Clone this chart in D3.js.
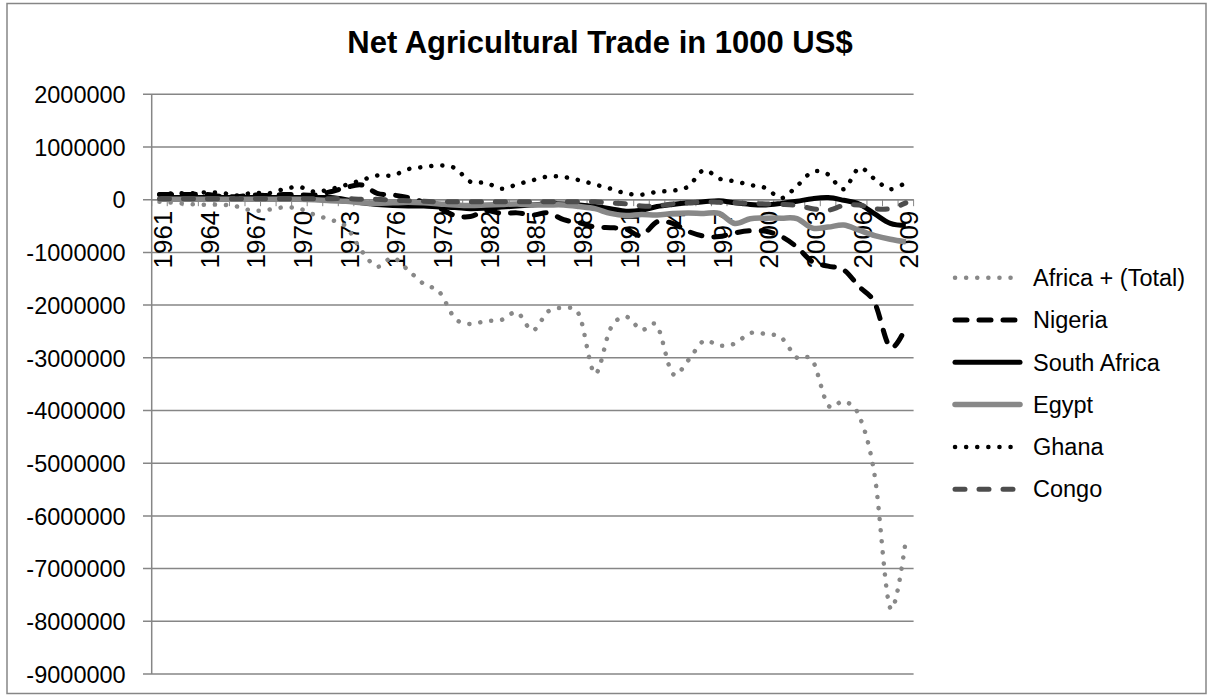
<!DOCTYPE html>
<meta charset="utf-8">
<style>
body { margin: 0; background: #fff; }
svg text { font-family: "Liberation Sans", Arial, sans-serif; fill: #000; }
.grid line { stroke: #868686; stroke-width: 1.5px; }
.axis path, .axis line { stroke: #868686; stroke-width: 1.5px; }
.series { fill: none; stroke-linejoin: round; }
</style>
<svg width="1213" height="698"></svg>
<script src="https://d3js.org/d3.v7.min.js"></script>
<script>

var years = d3.range(1961, 2010);
var tickYears = [1961, 1964, 1967, 1970, 1973, 1976, 1979, 1982, 1985, 1988, 1991, 1994, 1997, 2000, 2003, 2006, 2009];
var yTicks = [2000000, 1000000, 0, -1000000, -2000000, -3000000, -4000000, -5000000, -6000000, -7000000, -8000000, -9000000];

var africa = [-40000, -60000, -85000, -95000, -95000, -130000, -210000, -190000, -145000, -170000,
  -290000, -380000, -510000, -970000, -1270000, -1100000, -1340000, -1600000, -1750000, -2250000,
  -2360000, -2300000, -2280000, -2140000, -2480000, -2120000, -2060000, -2190000, -3300000, -2450000,
  -2220000, -2470000, -2390000, -3300000, -3050000, -2680000, -2770000, -2730000, -2530000, -2550000,
  -2620000, -3000000, -3050000, -3900000, -3830000, -4100000, -5240000, -7750000, -6450000];
var nigeria = [100000, 100000, 100000, 100000, 60000, 60000, 90000, 80000, 100000, 90000,
  90000, 150000, 230000, 280000, 120000, 90000, 40000, -50000, -160000, -300000,
  -320000, -210000, -260000, -250000, -290000, -250000, -380000, -440000, -520000, -530000,
  -560000, -680000, -420000, -450000, -600000, -690000, -700000, -630000, -590000, -600000,
  -700000, -900000, -1180000, -1260000, -1330000, -1650000, -1960000, -2800000, -2420000];
var southAfrica = [40000, 40000, 40000, 40000, 40000, 40000, 40000, 40000, 40000, 40000,
  40000, 40000, 0, -60000, -90000, -110000, -120000, -120000, -140000, -150000,
  -170000, -160000, -140000, -120000, -100000, -80000, -80000, -100000, -130000, -170000,
  -220000, -200000, -130000, -90000, -60000, -40000, -20000, -60000, -90000, -100000,
  -70000, -30000, 20000, 40000, -10000, -80000, -270000, -450000, -490000];
var egypt = [10000, 10000, 10000, 10000, 10000, 10000, 10000, 10000, 10000, 10000,
  0, -20000, -30000, -60000, -70000, -60000, -50000, -60000, -80000, -100000,
  -110000, -100000, -90000, -80000, -100000, -100000, -100000, -130000, -170000, -260000,
  -300000, -280000, -290000, -260000, -250000, -260000, -260000, -450000, -360000, -350000,
  -350000, -360000, -540000, -520000, -480000, -580000, -680000, -750000, -800000];
var ghana = [100000, 120000, 120000, 140000, 130000, 80000, 130000, 120000, 200000, 240000,
  150000, 200000, 280000, 370000, 460000, 460000, 580000, 620000, 650000, 600000,
  340000, 320000, 210000, 290000, 370000, 440000, 430000, 370000, 290000, 210000,
  120000, 95000, 150000, 170000, 250000, 560000, 400000, 350000, 280000, 220000,
  30000, 260000, 530000, 480000, 200000, 600000, 390000, 200000, 330000];
var congo = [20000, 20000, 20000, 20000, 20000, 20000, 20000, 20000, 20000, 20000,
  20000, 20000, 20000, 10000, 10000, -10000, -20000, -30000, -40000, -40000,
  -40000, -40000, -40000, -40000, -40000, -40000, -40000, -40000, -40000, -60000,
  -80000, -120000, -120000, -80000, -60000, -40000, -50000, -60000, -70000, -80000,
  -90000, -110000, -170000, -200000, -110000, -100000, -170000, -170000, -60000];

var series = [
  {name: "Africa + (Total)", values: africa, color: "#888888", width: 4.5, dash: "0.1,11"},
  {name: "Nigeria", values: nigeria, color: "#000000", width: 5, dash: "12,12"},
  {name: "South Africa", values: southAfrica, color: "#000000", width: 5, dash: null},
  {name: "Egypt", values: egypt, color: "#888888", width: 5.5, dash: null},
  {name: "Ghana", values: ghana, color: "#000000", width: 4.5, dash: "0.1,11"},
  {name: "Congo", values: congo, color: "#4d4d4d", width: 5, dash: "10,14"}
];

var svg = d3.select("svg");

// chart border
svg.append("rect")
  .attr("x", 7).attr("y", 3.5)
  .attr("width", 1199).attr("height", 690)
  .attr("fill", "none").attr("stroke", "#868686").attr("stroke-width", 1.5);

svg.append("text")
  .attr("x", 600).attr("y", 53)
  .attr("text-anchor", "middle")
  .style("font-size", "31px").style("font-weight", "bold")
  .text("Net Agricultural Trade in 1000 US$");

var x = d3.scaleBand().domain(years).range([151.7, 913.6]).padding(0);
var y = d3.scaleLinear().domain([-9000000, 2000000]).range([674, 94.3]);

// gridlines
svg.append("g").attr("class", "grid")
  .selectAll("line").data(yTicks).enter().append("line")
    .attr("x1", 143).attr("x2", 913.6)
    .attr("y1", function(d) { return y(d); })
    .attr("y2", function(d) { return y(d); });

// y axis (plain hyphen for negatives, like the original)
var yAxis = svg.append("g").attr("class", "axis")
  .attr("transform", "translate(151.7,0)")
  .call(d3.axisLeft(y).tickValues(yTicks).tickSize(0).tickPadding(26)
    .tickFormat(function(d) { return String(d); }));
yAxis.select(".domain").attr("d", "M0," + y(2000000) + "V" + y(-9000000));
yAxis.selectAll("text").style("font-size", "23.5px").attr("dy", "0.35em");

// category axis at zero
var xg = svg.append("g").attr("class", "axis");
xg.append("line")
  .attr("x1", 151.7).attr("x2", 913.6)
  .attr("y1", y(0)).attr("y2", y(0));
xg.selectAll("line.tick").data(years.concat([2010])).enter().append("line")
  .attr("class", "tick")
  .attr("x1", function(d, i) { return i < years.length ? x(d) : x(2009) + x.bandwidth(); })
  .attr("x2", function(d, i) { return i < years.length ? x(d) : x(2009) + x.bandwidth(); })
  .attr("y1", y(0)).attr("y2", y(0) + 6.5)
  .style("stroke-width", "1px");
xg.selectAll("text").data(tickYears).enter().append("text")
  .attr("transform", function(d) {
    return "translate(" + (x(d) + x.bandwidth() / 2 + 3.5) + "," + (y(0) + 11) + ") rotate(-90)";
  })
  .attr("text-anchor", "end")
  .attr("dy", "0.35em")
  .style("font-size", "26px")
  .text(function(d) { return d; });

// series
var line = d3.line()
  .x(function(d, i) { return x(years[i]) + x.bandwidth() / 2; })
  .y(function(d) { return y(d); })
  .curve(d3.curveCatmullRom.alpha(0));

svg.append("g").selectAll("path").data(series).enter().append("path")
  .attr("class", "series")
  .attr("d", function(s) { return line(s.values); })
  .attr("stroke", function(s) { return s.color; })
  .attr("stroke-width", function(s) { return s.width; })
  .attr("stroke-dasharray", function(s) { return s.dash; })
  .attr("stroke-linecap", function(s) { return s.dash ? "round" : "butt"; });

// legend
var legend = svg.append("g").selectAll("g").data(series).enter().append("g")
  .attr("transform", function(s, i) { return "translate(955," + (277.7 + i * 42.3) + ")"; });
legend.append("line")
  .attr("x1", 0).attr("x2", 65)
  .attr("stroke", function(s) { return s.color; })
  .attr("stroke-width", function(s) { return s.width; })
  .attr("stroke-dasharray", function(s) { return s.dash; })
  .attr("stroke-linecap", "round");
legend.append("text")
  .attr("x", 78).attr("dy", "0.35em")
  .style("font-size", "23.5px")
  .text(function(s) { return s.name; });

</script>
